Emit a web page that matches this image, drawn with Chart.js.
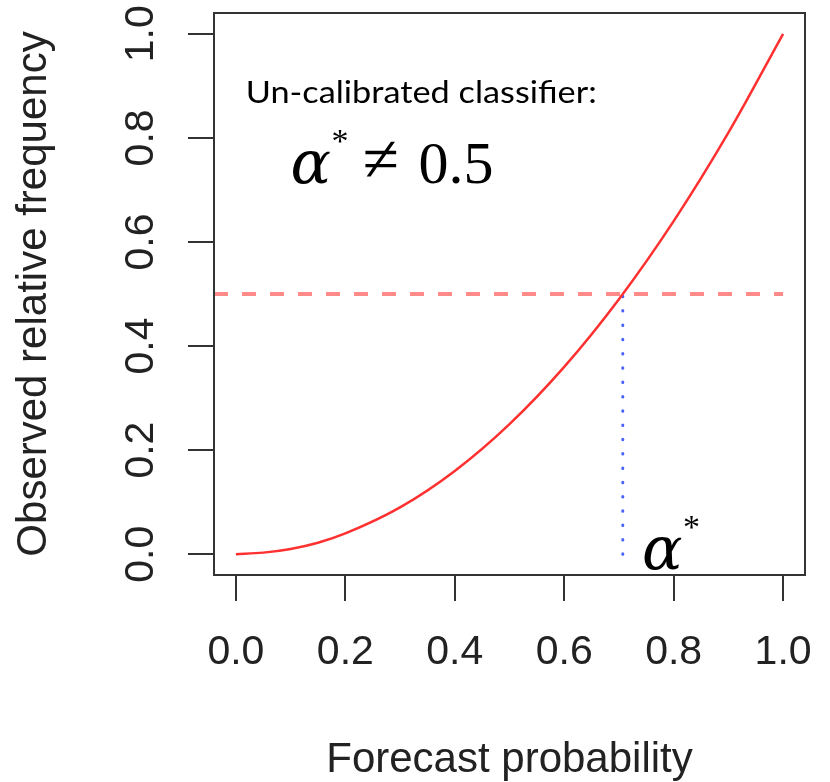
<!DOCTYPE html>
<html>
<head>
<meta charset="utf-8">
<script src="https://cdn.jsdelivr.net/npm/chart.js@4.4.0/dist/chart.umd.min.js"></script>
<style>
  html, body { margin: 0; padding: 0; background: #fff; }
  #chart { display: block; }
</style>
</head>
<body>
<canvas id="chart" width="830" height="782"></canvas>
<script>
// calibration curve
const forecastProb = [0, 0.05, 0.1, 0.15, 0.2, 0.3, 0.4, 0.5, 0.6, 0.7, 0.8, 0.9, 1.0];
const observedFreq = [0, 0.003, 0.01, 0.022, 0.04, 0.09, 0.16, 0.25, 0.36, 0.49, 0.64, 0.81, 1.0];

// dashed 0.5 line and dotted drop line at alpha*
const cutoffX = [-0.04, 1.0];
const cutoffY = [0.5, 0.5];
const alphaX = [0.707, 0.707];
const alphaY = [0, 0.5];

const axisTicks = [0, 0.2, 0.4, 0.6, 0.8, 1.0];

const toPoints = (xs, ys) => xs.map((x, i) => ({ x: x, y: ys[i] }));

const FONT = 'Liberation Sans';
const INK = '#222';

const rStyle = {
  id: 'rStyle',
  afterDraw(chart) {
    const { ctx, chartArea: a, scales: { x, y } } = chart;
    ctx.save();

    // box() like R
    ctx.strokeStyle = '#333';
    ctx.lineWidth = 2;
    ctx.strokeRect(a.left, a.top, a.right - a.left, a.bottom - a.top);

    // y tick labels, parallel to the axis
    ctx.fillStyle = INK;
    ctx.font = '41px "' + FONT + '"';
    ctx.textAlign = 'center';
    ctx.textBaseline = 'alphabetic';
    axisTicks.forEach(v => {
      ctx.save();
      ctx.translate(153, y.getPixelForValue(v));
      ctx.rotate(-Math.PI / 2);
      ctx.fillText(v.toFixed(1), 0, 0);
      ctx.restore();
    });

    // note text
    ctx.textAlign = 'left';
    ctx.fillStyle = '#000';
    ctx.font = '30px Lato';
    const note = 'Un-calibrated classifier:';
    const nx = x.getPixelForValue(0.018);
    const ny = y.getPixelForValue(0.868);
    const w = ctx.measureText(note).width;
    ctx.save();
    ctx.translate(nx, ny);
    ctx.scale(351 / w, 1);
    ctx.fillText(note, 0, 0);
    ctx.restore();

    // alpha* != 0.5
    const fx = x.getPixelForValue(0.1);
    const fy = y.getPixelForValue(0.714);
    ctx.font = 'italic 60px "DejaVu Serif"';
    ctx.fillText('\u03b1', fx, fy);
    ctx.font = '34px "Liberation Serif"';
    ctx.fillText('*', fx + 41, fy - 31);
    ctx.font = '66px "Liberation Serif"';
    ctx.fillText('\u2260', fx + 72, fy - 2);
    ctx.font = '60px "Liberation Serif"';
    ctx.fillText('0.5', fx + 128, fy);

    // alpha* at the foot of the dotted line
    const ax = x.getPixelForValue(0.742);
    const ay = y.getPixelForValue(-0.029);
    ctx.font = 'italic 60px "DejaVu Serif"';
    ctx.fillText('\u03b1', ax, ay);
    ctx.font = '34px "Liberation Serif"';
    ctx.fillText('*', ax + 41, ay - 31);

    ctx.restore();
  }
};

new Chart(document.getElementById('chart'), {
  type: 'scatter',
  data: {
    datasets: [
      {
        data: toPoints(forecastProb, observedFreq),
        showLine: true,
        borderColor: '#ff3030',
        borderWidth: 2.5,
        pointRadius: 0,
        cubicInterpolationMode: 'monotone'
      },
      {
        data: toPoints(cutoffX, cutoffY),
        showLine: true,
        borderColor: 'rgba(255,60,60,0.6)',
        borderWidth: 4,
        borderDash: [14, 14],
        pointRadius: 0
      },
      {
        data: toPoints(alphaX, alphaY),
        showLine: true,
        borderColor: 'rgba(40,70,255,0.85)',
        borderWidth: 3,
        borderDash: [0.5, 13.8],
        borderCapStyle: 'round',
        pointRadius: 0
      }
    ]
  },
  options: {
    responsive: false,
    animation: false,
    events: [],
    layout: { padding: { top: 13, right: 25, left: 0, bottom: 0 } },
    plugins: { legend: { display: false }, tooltip: { enabled: false } },
    scales: {
      x: {
        type: 'linear',
        min: -0.04,
        max: 1.04,
        afterBuildTicks: s => { s.ticks = axisTicks.map(v => ({ value: v })); },
        afterFit: s => { s.height = 207; s.paddingLeft = 0; s.paddingRight = 0; },
        grid: { drawOnChartArea: false, drawTicks: true, tickLength: 26, color: '#333', lineWidth: 2 },
        border: { display: false },
        ticks: {
          color: INK,
          font: { family: FONT, size: 41 },
          padding: 27,
          maxRotation: 0,
          callback: v => Number(v).toFixed(1)
        },
        title: {
          display: true,
          text: 'Forecast probability',
          color: INK,
          font: { family: FONT, size: 42, lineHeight: 1 },
          padding: { top: 0, bottom: 0.5 }
        }
      },
      y: {
        type: 'linear',
        min: -0.04,
        max: 1.04,
        afterBuildTicks: s => { s.ticks = axisTicks.map(v => ({ value: v })); },
        afterFit: s => { s.width = 214; s.paddingTop = 0; s.paddingBottom = 0; },
        grid: { drawOnChartArea: false, drawTicks: true, tickLength: 26, color: '#333', lineWidth: 2 },
        border: { display: false },
        ticks: { display: false },
        title: {
          display: true,
          text: 'Observed relative frequency',
          color: INK,
          font: { family: FONT, size: 42, lineHeight: 1 },
          padding: { top: 13.5, bottom: 0 }
        }
      }
    }
  },
  plugins: [rStyle]
});
</script>
</body>
</html>
